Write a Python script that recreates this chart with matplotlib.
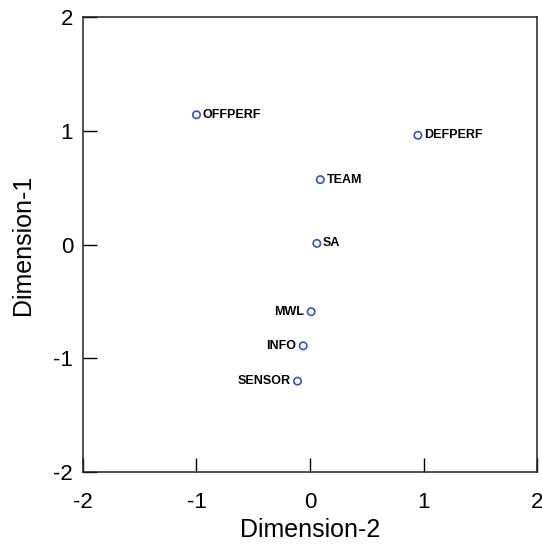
import matplotlib.pyplot as plt

# MDS coordinates
labels = ["OFFPERF", "DEFPERF", "TEAM", "SA", "MWL", "INFO", "SENSOR"]
dim2 = [-1.00, 0.95, 0.09, 0.06, 0.01, -0.06, -0.11]
dim1 = [1.14, 0.96, 0.57, 0.01, -0.59, -0.89, -1.20]
side = ["right", "right", "right", "right", "left", "left", "left"]
ticks = [-2, -1, 0, 1, 2]

plt.rcParams["font.family"] = ["Liberation Sans", "DejaVu Sans"]

fig = plt.figure(figsize=(5.42, 5.44), dpi=100)
ax = fig.add_axes([0.153, 0.132, 0.838, 0.837])

ax.scatter(dim2, dim1, s=28, facecolors="none", edgecolors="#3a4fc4", linewidths=1.2, zorder=3)

for lab, x, y, s in zip(labels, dim2, dim1, side):
    if s == "right":
        ax.annotate(lab, (x, y), xytext=(4.5, 0), textcoords="offset points",
                    ha="left", va="center", fontsize=9, fontweight="bold")
    else:
        ax.annotate(lab, (x, y), xytext=(-5, 0), textcoords="offset points",
                    ha="right", va="center", fontsize=9, fontweight="bold")

ax.set_xlim(-2, 2)
ax.set_ylim(-2, 2)
ax.set_xticks(ticks)
ax.set_yticks(ticks)
ax.set_xticklabels([str(t) for t in ticks])
ax.set_yticklabels([str(t) for t in ticks])
ax.tick_params(direction="in", length=10, width=1, labelsize=16, top=False, right=False)
ax.tick_params(axis="x", pad=14)
ax.tick_params(axis="y", pad=7)
for sp in ax.spines.values():
    sp.set_linewidth(1.1)
    sp.set_color("#222222")

ax.set_xlabel("Dimension-2", fontsize=18, labelpad=4)
ax.set_ylabel("Dimension-1", fontsize=18, labelpad=13)

fig.savefig("out.png", dpi=100)
